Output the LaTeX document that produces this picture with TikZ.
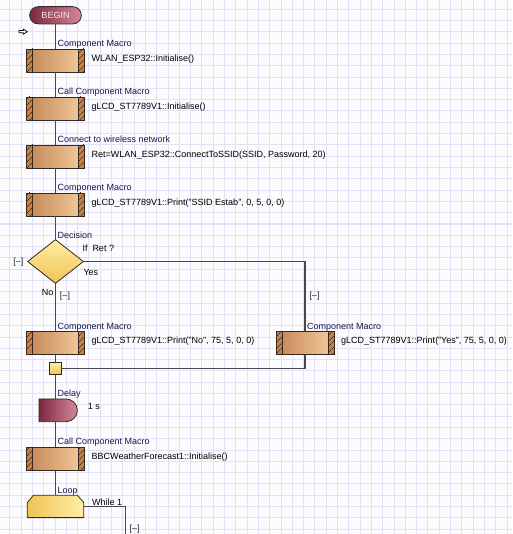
\documentclass[tikz,border=0pt]{standalone}
\usepackage{fontspec}
\setmainfont{Liberation Sans}
\usetikzlibrary{patterns.meta,shapes.misc,shapes.geometric}
\definecolor{bgc}{RGB}{252,252,255}
\definecolor{gridc}{RGB}{226,226,246}
\definecolor{linec}{RGB}{72,72,72}
\definecolor{lblc}{RGB}{22,22,75}
\definecolor{bodyL}{RGB}{196,134,84}
\definecolor{bodyR}{RGB}{244,204,158}
\definecolor{hatchbg}{RGB}{192,130,78}
\definecolor{hatchln}{RGB}{80,50,25}
\definecolor{boxedge}{RGB}{55,40,30}
\definecolor{marL}{RGB}{125,40,65}
\definecolor{marR}{RGB}{215,135,155}
\definecolor{yelT}{RGB}{255,238,165}
\definecolor{yelB}{RGB}{238,196,86}
\definecolor{begintext}{RGB}{252,232,238}
\newcommand\hatchend[2]{%
  \fill[hatchbg] #1 rectangle #2;
  \fill[pattern={Lines[angle=45,distance=4pt,line width=0.7pt]}, pattern color=hatchln] #1 rectangle #2;}
\newcommand\cmacro[3]{%
  \node[mbody] (#1) at (#3,#2) {};
  \hatchend{(#1.north west)}{([xshift=6pt]#1.south west)}
  \hatchend{([xshift=-6pt]#1.north east)}{(#1.south east)}
  \draw[boxedge, line width=0.8pt] (#1.north west) rectangle (#1.south east);
  \draw[boxedge, line width=0.6pt] ([xshift=6pt]#1.north west) -- ([xshift=6pt]#1.south west)
     ([xshift=-6pt]#1.north east) -- ([xshift=-6pt]#1.south east);}
\begin{document}
\begin{tikzpicture}[x=1pt,y=-1pt, font=\fontsize{9}{10}\selectfont,
  conn/.style={draw=linec, line width=1.5pt},
  mbody/.style={draw=boxedge, line width=0.8pt, left color=bodyL, right color=bodyR,
     minimum width=56.7pt, minimum height=22.7pt, inner sep=0pt},
  lbl/.style={text=lblc, anchor=base west, inner sep=0pt},
  txt/.style={text=black, anchor=base west, inner sep=0pt},
  coll/.style={text=black!85, inner sep=0pt},
  yelshape/.style={draw=boxedge, line width=0.8pt, top color=yelT, bottom color=yelB},
  marshape/.style={draw=boxedge, line width=0.8pt, left color=marL, right color=marR,
     rounded rectangle, inner sep=0pt}]
\useasboundingbox (0,0) rectangle (512,534);
\fill[bgc] (0,0) rectangle (512,534);
\foreach \i in {0,...,46} { \draw[gridc, line width=1pt] ({9.8+11.3*(\i-1)},0) -- ++(0,534); }
\foreach \j in {0,...,48} { \draw[gridc, line width=1pt] (0,{9.3+11.3*(\j-1)}) -- ++(512,0); }

% start
\node[marshape, minimum width=51.7pt, minimum height=17.3pt, text=begintext] (begin) at (55.5,15.3) {BEGIN};
\filldraw[fill=white, draw=black, line width=0.7pt] (19,30.6) -- (23.3,30.6) -- (23.3,29.2) -- (27.3,31.7) -- (23.3,34.2) -- (23.3,32.8) -- (19,32.8) -- cycle;

% macro boxes
\cmacro{m1}{60.7}{55.5}
\cmacro{m2}{108.7}{55.5}
\cmacro{m3}{156.7}{55.5}
\cmacro{m4}{204.7}{55.5}
\node[lbl] (l1) at (57.5,46.3) {Component Macro};
\node[txt] (t1) at (91.5,61.7) {WLAN\_ESP32::Initialise()};
\node[lbl] (l2) at (57.5,94.3) {Call Component Macro};
\node[txt] (t2) at (91.5,109.5) {gLCD\_ST7789V1::Initialise()};
\node[lbl] (l3) at (57.5,142.3) {Connect to wireless network};
\node[txt] (t3) at (91.5,157.5) {Ret=WLAN\_ESP32::ConnectToSSID(SSID, Password, 20)};
\node[lbl] (l4) at (57.5,190.3) {Component Macro};
\node[txt] (t4) at (91.5,205.5) {gLCD\_ST7789V1::Print("SSID Estab", 0, 5, 0, 0)};

% decision
\node[diamond, yelshape, minimum width=56pt, minimum height=44pt, inner sep=0pt, shape aspect=1.27] (dec) at (55.5,261.5) {};
\node[lbl] (ldec) at (57.5,238) {Decision};
\node[txt] (cond) at (82.3,251.7) {If\ \ Ret ?};
\node[txt] (yes) at (83.3,275) {Yes};
\node[txt] (no) at (41.7,295.7) {No};
\node[coll] (c1) at (18.3,262.5) {[--]};
\node[coll] (c2) at (65,295.7) {[--]};
\node[coll] (c3) at (314.7,295.7) {[--]};

\cmacro{mNo}{343}{55.5}
\cmacro{mYes}{343}{305.2}
\node[lbl] (lNo) at (57.5,329.3) {Component Macro};
\node[txt] (tNo) at (91.5,343.8) {gLCD\_ST7789V1::Print("No", 75, 5, 0, 0)};
\node[lbl] (lYes) at (307,329.3) {Component Macro};
\node[txt] (tYes) at (341,343.8) {gLCD\_ST7789V1::Print("Yes", 75, 5, 0, 0)};

\node[draw=boxedge, line width=0.8pt, top color=yelT, bottom color=yelB, minimum size=11.5pt, inner sep=0pt] (jn) at (55.5,368.3) {};

% delay
\node[marshape, rounded rectangle left arc=none, minimum width=38.3pt, minimum height=22.7pt] (dly) at (58.2,410.3) {};
\node[lbl] (ldly) at (57.5,396.7) {Delay};
\node[txt] (tdly) at (87.7,409.3) {1 s};

\cmacro{m5}{458.8}{55.5}
\node[lbl] (l5) at (57.5,444.3) {Call Component Macro};
\node[txt] (t5) at (91.5,459.5) {BBCWeatherForecast1::Initialise()};

% loop
\node[minimum width=56.7pt, minimum height=22.3pt, inner sep=0pt] (loop) at (55.5,506.5) {};
\path[draw=boxedge, line width=0.8pt, left color=yelB, right color=yelT]
  (33.3,495.3) -- (77.5,495.3) -- (83.8,502.7) -- (83.8,517.6) -- (27.2,517.6) -- (27.2,502.7) -- cycle;
\node[lbl] (lloop) at (57.5,493.3) {Loop};
\node[txt] (tloop) at (92,505.3) {While 1};
\node[coll] (c4) at (134.5,529) {[--]};
\coordinate (lend) at (125.7,534);

% connectors
\draw[conn] (begin.south) -- (m1.north);
\draw[conn] (m1.south) -- (m2.north);
\draw[conn] (m2.south) -- (m3.north);
\draw[conn] (m3.south) -- (m4.north);
\draw[conn] (m4.south) -- (dec.north);
\draw[conn] (dec.south) -- (mNo.north);
\draw[conn] (dec.east) -| (mYes.north);
\draw[conn] (mNo.south) -- (jn.north);
\draw[conn] (mYes.south) |- (jn.east);
\draw[conn] (jn.south) -- (jn.south |- dly.north);
\draw[conn] (m5.north |- dly.south) -- (m5.north);
\draw[conn] (m5.south) -- (loop.north);
\draw[conn] (loop.east) -| (lend);
\end{tikzpicture}
\end{document}
